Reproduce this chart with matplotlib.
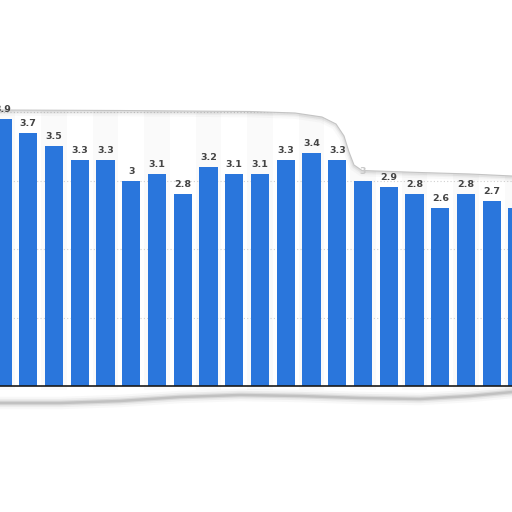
import numpy as np
import matplotlib
matplotlib.use("Agg")
import matplotlib.pyplot as plt
from matplotlib.transforms import Affine2D
from matplotlib.patches import Polygon

# values, left to right (first and last bar are cut off)
values = [3.9, 3.7, 3.5, 3.3, 3.3, 3.0, 3.1, 2.8, 3.2, 3.1, 3.1,
          3.3, 3.4, 3.3, 3.0, 2.9, 2.8, 2.6, 2.8, 2.7, 2.6]
labels = ["3.9", "3.7", "3.5", "3.3", "3.3", "3", "3.1", "2.8", "3.2", "3.1", "3.1",
          "3.3", "3.4", "3.3", "3", "2.9", "2.8", "2.6", "2.8", "2.7", "2.6"]
grid_values = [1, 2, 3, 4]

x = np.arange(len(values))

fig = plt.figure(figsize=(5.12, 5.12), dpi=100)
ax = fig.add_axes([0, 0, 1, 1])

# faint alternating column bands
for i in x:
    if i % 2 == 0:
        ax.axvspan(i - 0.5, i + 0.5, color="#fafafa", zorder=0, lw=0)

for g in grid_values:
    ax.axhline(g, color="#d0d0d0", lw=0.8, ls=(0, (1, 2)), zorder=1)

ax.bar(x, values, width=0.70, color="#2a76dc", zorder=2)
ax.axhline(0, color="#1a1a1a", lw=1.2, zorder=3)

for i, v in enumerate(values):
    ax.annotate(labels[i], (i, v), xytext=(0, 3.5), textcoords="offset points",
                ha="center", va="bottom", fontsize=6.8, fontweight="bold",
                color="#c8c8c8" if i == 14 else "#444444", zorder=10)

ax.set_xlim(-0.097, 19.786)
ax.set_ylim(-1.839, 5.635)
ax.axis("off")

# torn paper edges, drawn in pixel coordinates (y from top)
px = Affine2D().scale(1 / 512, -1 / 512).translate(0, 1) + fig.transFigure

top = [(0, 110), (120, 110.5), (250, 111.5), (295, 113), (322, 117), (336, 124),
       (344, 136), (349, 152), (354, 165), (362, 170.5), (420, 172.5), (470, 174), (512, 176)]
bottom = [(0, 403), (60, 403), (120, 401), (180, 397), (240, 395), (300, 396),
          (360, 398), (420, 399), (470, 396), (512, 392)]

tx, ty = zip(*top)
bx, by = zip(*bottom)

# white paper below the baseline
ax.add_patch(Polygon([(0, 390), (512, 390), (512, 520), (0, 520)], closed=True,
                     transform=px, facecolor="white", edgecolor="none", zorder=4))

# shadow: stacked lines to fake a blur
for lw, a in [(7, 0.03), (4, 0.05), (2, 0.09)]:
    ax.add_line(plt.Line2D(tx, [t + 1 for t in ty], transform=px,
                           color="#555555", lw=lw, alpha=a, zorder=5))
for lw, a in [(9, 0.04), (6, 0.07), (3.5, 0.12), (1.8, 0.18)]:
    ax.add_line(plt.Line2D(bx, by, transform=px,
                           color="#555555", lw=lw, alpha=a, zorder=5))

ax.add_patch(Polygon(top + [(512, -5), (0, -5)], closed=True,
                     transform=px, facecolor="white", edgecolor="none", zorder=6))
ax.add_line(plt.Line2D(tx, ty, transform=px, color="#c4c4c4", lw=0.8, zorder=7))

fig.savefig("out.png", dpi=100)
